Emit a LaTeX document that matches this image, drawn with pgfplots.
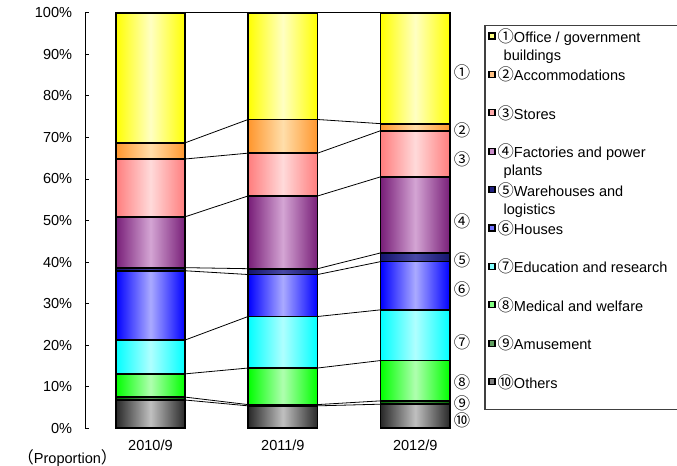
\documentclass[border=0pt]{standalone}
\usepackage{pgfplots}
\pgfplotsset{compat=1.18}
\usepackage{pgfplotstable}
\usepackage{fontspec}
\setmainfont{Liberation Sans}
\newfontfamily\cjk[Scale=1.12]{Noto Sans CJK JP}

% bar colours: edge / middle of the shading / legend swatch
\definecolor{c1}{RGB}{255,255,0}   \definecolor{c1m}{RGB}{255,255,195} \definecolor{c1l}{RGB}{255,255,128}
\definecolor{c2}{RGB}{255,150,45}  \definecolor{c2m}{RGB}{255,222,170} \definecolor{c2l}{RGB}{255,192,128}
\definecolor{c3}{RGB}{255,125,125} \definecolor{c3m}{RGB}{255,218,218} \definecolor{c3l}{RGB}{255,170,170}
\definecolor{c4}{RGB}{120,30,120}  \definecolor{c4m}{RGB}{212,165,212} \definecolor{c4l}{RGB}{200,140,200}
\definecolor{c5}{RGB}{20,20,110}   \definecolor{c5m}{RGB}{72,72,165}   \definecolor{c5l}{RGB}{32,32,128}
\definecolor{c6}{RGB}{0,0,255}     \definecolor{c6m}{RGB}{170,170,255} \definecolor{c6l}{RGB}{112,112,255}
\definecolor{c7}{RGB}{0,255,255}   \definecolor{c7m}{RGB}{175,255,255} \definecolor{c7l}{RGB}{128,255,255}
\definecolor{c8}{RGB}{0,255,0}     \definecolor{c8m}{RGB}{175,255,175} \definecolor{c8l}{RGB}{128,255,128}
\definecolor{c9}{RGB}{0,110,0}     \definecolor{c9m}{RGB}{95,155,95}   \definecolor{c9l}{RGB}{96,160,96}
\definecolor{c10}{RGB}{40,40,40}   \definecolor{c10m}{RGB}{192,192,192} \definecolor{c10l}{RGB}{128,128,128}

% top of each category in the stack (%)
\pgfplotstableread{
x  s1   s2    s3    s4    s5     s6    s7     s8    s9   s10
0  100  68.7  64.8  50.9  38.65  37.9  21.25  13.1  7.5  6.8
1  100  74.3  66.2  55.9  38.4   37.0  26.9   14.5  5.7  5.4
2  100  73.3  71.6  60.5  42.2   40.1  28.5   16.3  6.6  5.8
}\cumtops

\newcommand\chartfont{\fontsize{10.9pt}{13.5pt}\selectfont}
\newcommand\legtxt[1]{\parbox[t]{132pt}{#1}}

\pgfplotsset{seg/.style={ybar, bar width=0.525, bar shift=0pt, draw=black, line width=1.3pt, forget plot}}

% one plot per bar, so that every bar gets its own shading
\newcommand\segbars[3]{%
  \addplot[seg, left color=#2, right color=#2, middle color=#3]
    table[x=x, y=#1, skip coords between index={1}{3}] {\cumtops};
  \addplot[seg, left color=#2, right color=#2, middle color=#3]
    table[x=x, y=#1, skip coords between index={0}{1}, skip coords between index={2}{3}] {\cumtops};
  \addplot[seg, left color=#2, right color=#2, middle color=#3]
    table[x=x, y=#1, skip coords between index={0}{2}] {\cumtops};
}

\begin{document}
\begin{tikzpicture}[font=\chartfont]
\useasboundingbox (0,0) rectangle (507.75pt,349.5pt);
\begin{axis}[
  at={(64.1pt,28.28pt)}, anchor=south west,
  scale only axis, width=297pt, height=311.7pt,
  xmin=-0.491, xmax=2.5, ymin=0, ymax=100,
  clip=false,
  axis y line*=left, axis x line*=bottom,
  x axis line style={draw=none},
  y axis line style={black, line width=0.6pt},
  xtick={0,1,2}, xticklabels={2010/9,2011/9,2012/9},
  xtick style={draw=none},
  xticklabel style={yshift=-5.2pt},
  ytick={0,10,...,100},
  yticklabel={\pgfmathprintnumber{\tick}\%},
  yticklabel style={xshift=-6.5pt},
  /pgf/number format/assume math mode=true,
  tick align=inside, major tick length=3pt,
  ytick style={black, line width=0.6pt},
  every tick label/.append style={font=\chartfont},
  legend image code/.code={
    \draw[#1, draw=black, line width=0.9pt] (0pt,2.6pt) rectangle (4.5pt,7.1pt);
    \path (0pt,0pt);
  },
  legend cell align=left,
  legend style={at={(1.0076,0.9704)}, anchor=north west,
    draw=black!75, line width=0.8pt, font=\chartfont,
    inner xsep=2.6pt, inner ysep=0pt, row sep=0pt, column sep=1.5pt,
    nodes={inner sep=0pt, text height=12.75pt, text depth=16.05pt},
    cells={anchor=base west}},
]
% connecting lines between the bars
\addplot[black, line width=0.6pt, forget plot] coordinates {(0.2625,100) (0.7375,100) (1.2625,100) (1.7375,100)};
\addplot[black, line width=0.6pt, forget plot] coordinates {(0.2625,68.7) (0.7375,74.3) (1.2625,74.3) (1.7375,73.3)};
\addplot[black, line width=0.6pt, forget plot] coordinates {(0.2625,64.8) (0.7375,66.2) (1.2625,66.2) (1.7375,71.6)};
\addplot[black, line width=0.6pt, forget plot] coordinates {(0.2625,50.9) (0.7375,55.9) (1.2625,55.9) (1.7375,60.5)};
\addplot[black, line width=0.6pt, forget plot] coordinates {(0.2625,38.65) (0.7375,38.4) (1.2625,38.4) (1.7375,42.2)};
\addplot[black, line width=0.6pt, forget plot] coordinates {(0.2625,37.9) (0.7375,37.0) (1.2625,37.0) (1.7375,40.1)};
\addplot[black, line width=0.6pt, forget plot] coordinates {(0.2625,21.25) (0.7375,26.9) (1.2625,26.9) (1.7375,28.5)};
\addplot[black, line width=0.6pt, forget plot] coordinates {(0.2625,13.1) (0.7375,14.5) (1.2625,14.5) (1.7375,16.3)};
\addplot[black, line width=0.6pt, forget plot] coordinates {(0.2625,7.5) (0.7375,5.7) (1.2625,5.7) (1.7375,6.6)};
\addplot[black, line width=0.6pt, forget plot] coordinates {(0.2625,6.8) (0.7375,5.4) (1.2625,5.4) (1.7375,5.8)};

% bars, tallest first so that each lower block covers the one above
\segbars{s1}{c1}{c1m}
\segbars{s2}{c2}{c2m}
\segbars{s3}{c3}{c3m}
\segbars{s4}{c4}{c4m}
\segbars{s5}{c5}{c5m}
\segbars{s6}{c6}{c6m}
\segbars{s7}{c7}{c7m}
\segbars{s8}{c8}{c8m}
\segbars{s9}{c9}{c9m}
\segbars{s10}{c10}{c10m}

\addlegendimage{fill=c1l}  \addlegendentry{\legtxt{{\cjk ①}Office / government\newline\hspace*{4.5pt}buildings}}
\addlegendimage{fill=c2l}  \addlegendentry{\legtxt{{\cjk ②}Accommodations}}
\addlegendimage{fill=c3l}  \addlegendentry{\legtxt{{\cjk ③}Stores}}
\addlegendimage{fill=c4l}  \addlegendentry{\legtxt{{\cjk ④}Factories and power\newline\hspace*{4.5pt}plants}}
\addlegendimage{fill=c5l}  \addlegendentry{\legtxt{{\cjk ⑤}Warehouses and\newline\hspace*{4.5pt}logistics}}
\addlegendimage{fill=c6l}  \addlegendentry{\legtxt{{\cjk ⑥}Houses}}
\addlegendimage{fill=c7l}  \addlegendentry{\legtxt{{\cjk ⑦}Education and research}}
\addlegendimage{fill=c8l}  \addlegendentry{\legtxt{{\cjk ⑧}Medical and welfare}}
\addlegendimage{fill=c9l}  \addlegendentry{\legtxt{{\cjk ⑨}Amusement}}
\addlegendimage{fill=c10l} \addlegendentry{\legtxt{{\cjk ⑩}Others}}

% circled numbers beside the 2012/9 bar
\node at (axis cs:2.353,85.6) {\cjk ①};
\node at (axis cs:2.353,71.8) {\cjk ②};
\node at (axis cs:2.353,64.8) {\cjk ③};
\node at (axis cs:2.353,49.7) {\cjk ④};
\node at (axis cs:2.353,40.5) {\cjk ⑤};
\node at (axis cs:2.353,33.5) {\cjk ⑥};
\node at (axis cs:2.353,20.8) {\cjk ⑦};
\node at (axis cs:2.353,11.1) {\cjk ⑧};
\node at (axis cs:2.353,6.1) {\cjk ⑨};
\node at (axis cs:2.353,1.8) {\cjk ⑩};

\node at (rel axis cs:-0.0455,-0.0715) {{\cjk （}Proportion{\cjk ）}};
\end{axis}
\end{tikzpicture}
\end{document}
